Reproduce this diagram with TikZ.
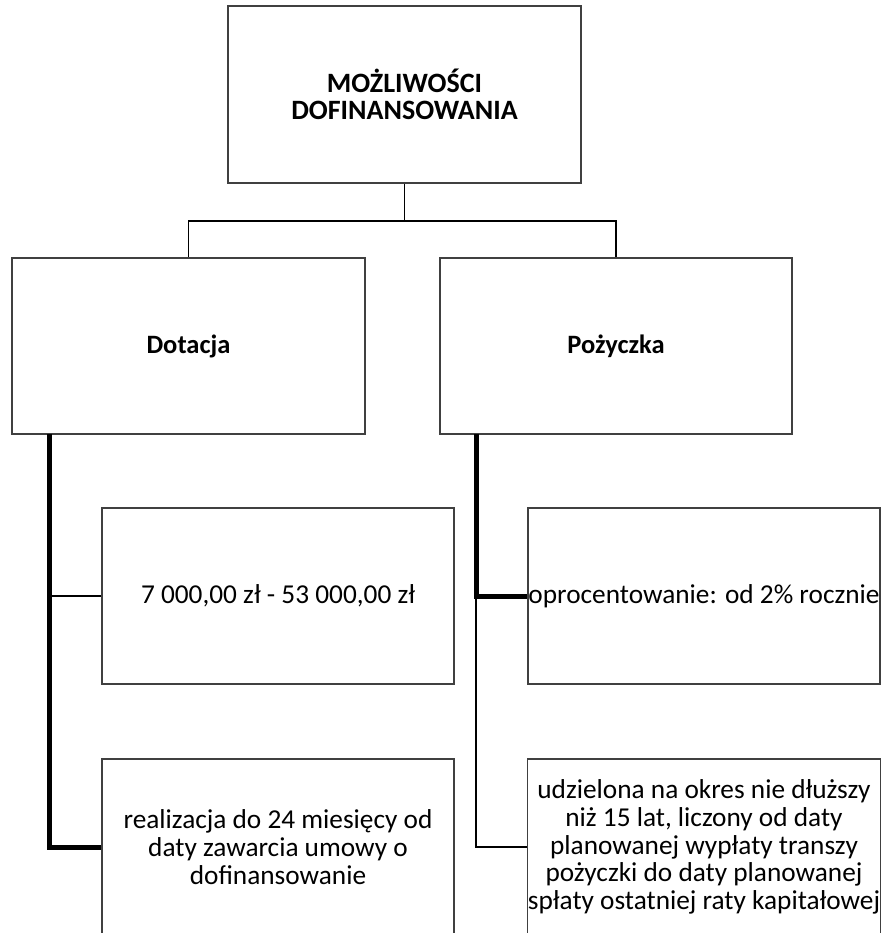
\documentclass[tikz,border=0pt]{standalone}
\usepackage{fontspec}
\setmainfont{Carlito}
\usepackage{tikz}
\tikzset{
  box/.style={draw=black!75, line width=1.1pt, rectangle, inner sep=0pt,
    minimum width=352pt, minimum height=176pt, align=center,
    font=\fontsize{27.3}{27.8}\selectfont},
  headbox/.style={box, font=\fontsize{26.5}{27.5}\selectfont\bfseries},
  link/.style={line width=1.1pt},
  mainlink/.style={line width=5pt}
}

\begin{document}
\begin{tikzpicture}[x=1pt,y=-1pt]
\useasboundingbox (0,0) rectangle (882,933);
\clip (0,0) rectangle (882,933);
\node[headbox, minimum width=353pt, minimum height=177pt, font=\fontsize{28}{27.5}\selectfont\bfseries] (top) at (404.5,94.5) {MOŻLIWOŚCI\\DOFINANSOWANIA};
\node[headbox, minimum width=353pt] (dot) at (188.5,346) {Dotacja};
\node[headbox] (poz) at (616,346) {Pożyczka};
\node[box] (d1) at (278,596) {7 000,00 zł - 53 000,00 zł};
\node[box] (d2) at (278,847) {realizacja do 24 miesięcy od\\daty zawarcia umowy o\\dofinansowanie};
\node[box] (p1) at (704,596) {oprocentowanie: od 2\% rocznie};
\node[box] (p2) at (704,847) {udzielona na okres nie dłuższy\\niż 15 lat, liczony od daty\\planowanej wypłaty transzy\\pożyczki do daty planowanej\\spłaty ostatniej raty kapitałowej};
\coordinate (fork) at (404.5,221);
\coordinate (dstem) at (49,434);
\coordinate (pstem) at (476,434);
\draw[link] (top.south) -- (fork);
\foreach \n in {dot,poz}
{
  \draw[link] (fork) -| (\n.north);
}
\draw[link] (dstem) |- (d1.west);
\draw[mainlink] (dstem) |- (d2.west);
\draw[link] (pstem) |- (p2.west);
\draw[mainlink] (pstem) |- (p1.west);
\end{tikzpicture}
\end{document}
